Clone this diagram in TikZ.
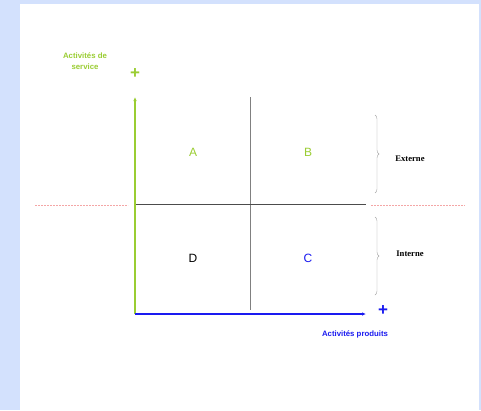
\documentclass[tikz,border=0pt]{standalone}
\usepackage{fontspec}
\setmainfont{Liberation Serif}
\setsansfont{Liberation Sans}
\usetikzlibrary{arrows.meta,decorations.pathreplacing}
\definecolor{vert}{HTML}{9ACD32}
\definecolor{bleu}{HTML}{1A1AF0}
\definecolor{fond}{HTML}{D3E1FD}
\definecolor{rose}{HTML}{F4A6A6}
\begin{document}
\begin{tikzpicture}[x=1pt,y=-1pt,font=\sffamily\fontsize{7}{8}\selectfont,
  axe/.style={line width=1.2pt,-{Latex[length=4pt,width=3.5pt]}},
  lettre/.style={font=\sffamily\fontsize{12}{12}\selectfont},
  plus/.style={font=\sffamily\bfseries\fontsize{17}{17}\selectfont},
  etiq/.style={font=\sffamily\bfseries\fontsize{7.8}{11}\selectfont},
  cote/.style={font=\rmfamily\bfseries\fontsize{8.6}{10}\selectfont},
  acc/.style={decorate,decoration={brace,amplitude=4pt},draw=gray!70,thin},
  pointille/.style={draw=rose,line width=1pt,dash pattern=on 2pt off 1pt}]
% fond
\fill[fond] (0,0) rectangle (481,410);
\fill[white] (20,4) rectangle (479,410);
\useasboundingbox (0,0) rectangle (481,410);
\coordinate (o) at (135,314);\coordinate (yh) at (135,97);\coordinate (xd) at (366,314);
\coordinate (mh) at (250,97);\coordinate (mb) at (250,310);
\coordinate (hg) at (135,204);\coordinate (hd) at (366,204);
% separations
\draw[gray,line width=.8pt] (mh)--(mb);
\draw[black!70,line width=.8pt] (hg)--(hd);
\coordinate (pg1) at (35,205.5);\coordinate (pg2) at (128,205.5);
\coordinate (pd1) at (371,205.5);\coordinate (pd2) at (465,205.5);
\draw[pointille] (pg1)--(pg2);\draw[pointille] (pd1)--(pd2);
% axes
\draw[axe,draw=vert] (o)--(yh);
\draw[axe,draw=bleu] (o)--(xd);
\node[plus,text=vert] (py) at (135,74) {+};
\node[plus,text=bleu] (px) at (383,311) {+};
\node[etiq,text=vert,align=center] (ly) at (85,61) {Activités de\\service};
\node[etiq,text=bleu] (lx) at (355,334) {Activités produits};
% quadrants
\foreach \n/\x/\y/\c in {A/193/152/vert,B/308/152/vert,D/193/258/black,C/308/258/bleu}
  {\node[lettre,text=\c] (q\n) at (\x,\y) {\n};}
% accolades
\coordinate (e1) at (375,115);\coordinate (e2) at (375,193);
\coordinate (i1) at (375,217);\coordinate (i2) at (375,295);
\draw[acc] (e1)--(e2);\draw[acc] (i1)--(i2);
\node[cote] (ext) at (410,159) {Externe};
\node[cote] (int) at (410,254) {Interne};
\end{tikzpicture}
\end{document}
